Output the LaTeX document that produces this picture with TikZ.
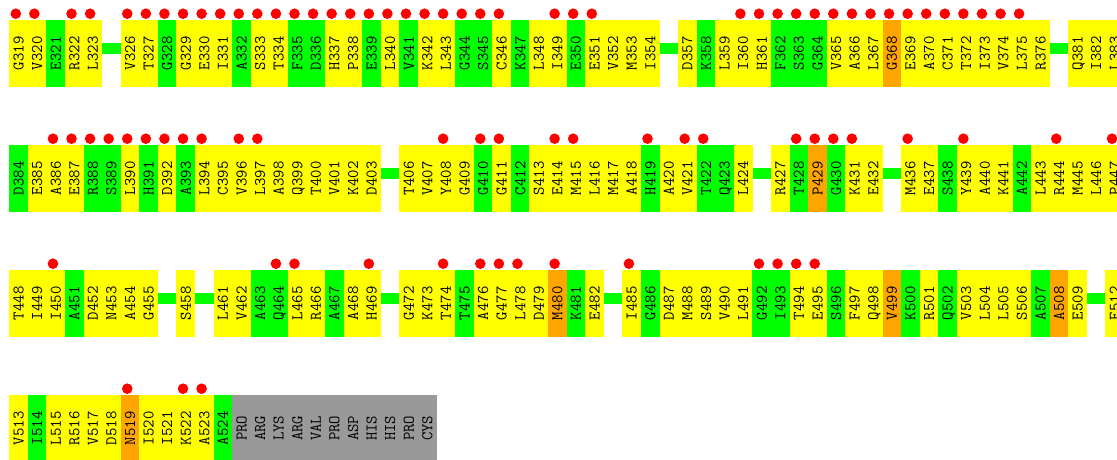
\documentclass[tikz,border=0pt]{standalone}
\usepackage{fontspec}
\usepackage{tikz}
\definecolor{cY}{HTML}{FFFF00}
\definecolor{cG}{HTML}{00FF00}
\definecolor{cO}{HTML}{FFA500}
\definecolor{cR}{HTML}{FF0000}
\definecolor{cX}{HTML}{999999}
\tikzset{
  cell/.style={draw=none, inner sep=0pt, outer sep=0pt, minimum width=18.68pt, minimum height=66.7pt},
  reslabel/.style={rotate=90, inner sep=0pt, text height=10pt, text depth=0pt, text=black,
    font=\ttfamily\fontsize{16.3}{16.3}\selectfont},
  resdot/.style={fill=cR},
  link/.style={draw=cG, line width=11pt},
}
\newcommand\cellw{18.58}
\newcommand\xorig{9.3}
\def\gapmark{-}
\newcommand\resrow[2]{%
  \foreach \lab/\col/\dt [count=\i from 0] in {#2}{%
    \edef\tmplab{\lab}%
    \ifx\tmplab\gapmark\else
      \node[cell, fill=c\col, label={[reslabel]center:\lab}] (\lab) at ({\xorig+(\i+0.5)*\cellw}, {#1+33.35}) {};
      \ifnum\dt=1 \fill[resdot] ([xshift=-2.8pt,yshift=6.3pt]\lab.north) circle (5.3pt);\fi
    \fi
  }%
}
\newcommand\linkup[2]{\draw[link] ([yshift=4.55pt]#1.east) -- ([yshift=4.55pt]#2.west);}
\begin{document}
\begin{tikzpicture}[x=1pt,y=-1pt]
\path[use as bounding box] (0,0) rectangle (1117,460);
\clip (0,0) rectangle (1117,460);
\fill[white] (0,0) rectangle (1117,460);
% row 1
\resrow{20}{G319/Y/1, V320/Y/1, E321/G/0, R322/Y/1, L323/Y/1, -/-/0,
V326/Y/1, T327/Y/1, G328/G/1, G329/Y/1, E330/Y/1, I331/Y/1, A332/G/1, S333/Y/1, T334/Y/1, F335/G/1, D336/G/1, H337/Y/1, P338/Y/1, E339/G/1, L340/Y/1, V341/G/1, K342/Y/1, L343/Y/1, G344/G/1, S345/G/1, C346/Y/1, K347/G/0, L348/Y/0, I349/Y/1, E350/G/1, E351/Y/1, V352/Y/0, M353/Y/0, I354/Y/0, -/-/0,
D357/Y/0, K358/G/0, L359/Y/0, I360/Y/1, H361/Y/1, F362/G/1, S363/G/1, G364/G/1, V365/Y/1, A366/Y/1, L367/Y/1, G368/O/1, E369/Y/1, A370/Y/1, C371/Y/1, T372/Y/1, I373/Y/1, V374/Y/1, L375/Y/1, R376/Y/0, -/-/0,
Q381/Y/0, I382/Y/0, L383/Y/0}
% row 2
\resrow{145}{D384/G/0, E385/Y/0, A386/Y/1, E387/Y/1, R388/G/1, S389/G/1, L390/Y/1, H391/G/1, D392/Y/1, A393/G/1, L394/Y/1, C395/Y/0, V396/Y/1, L397/Y/1, A398/Y/0, Q399/Y/0, T400/Y/0, V401/Y/0, K402/Y/0, D403/Y/0, -/-/0,
T406/Y/0, V407/Y/0, Y408/Y/1, G409/Y/0, G410/G/1, G411/Y/1, C412/G/0, S413/Y/0, E414/Y/1, M415/Y/1, L416/Y/0, M417/Y/0, A418/Y/0, H419/G/1, A420/Y/0, V421/Y/1, T422/G/1, Q423/G/0, L424/Y/0, -/-/0,
R427/Y/0, T428/G/1, P429/O/1, G430/G/1, K431/Y/1, E432/Y/0, -/-/0,
M436/Y/1, E437/Y/0, S438/G/0, Y439/Y/1, A440/Y/0, K441/Y/0, A442/G/0, L443/Y/0, R444/Y/1, M445/Y/0, L446/Y/0, P447/Y/1}
% row 3
\resrow{270}{T448/Y/0, I449/Y/0, I450/Y/1, A451/G/0, D452/Y/0, N453/Y/0, A454/Y/0, G455/Y/0, -/-/0, S458/Y/0, -/-/0,
L461/Y/0, V462/Y/0, A463/G/0, Q464/G/1, L465/Y/1, R466/Y/0, A467/G/0, A468/Y/0, H469/Y/1, -/-/0,
G472/Y/0, K473/Y/0, T474/Y/1, T475/G/0, A476/Y/1, G477/Y/1, L478/Y/1, D479/Y/0, M480/O/1, K481/G/0, E482/Y/0, -/-/0,
I485/Y/1, G486/G/0, D487/Y/0, M488/Y/0, S489/Y/0, V490/Y/0, L491/Y/0, G492/G/1, I493/G/1, T494/Y/1, E495/Y/1, S496/G/0, F497/Y/0, Q498/Y/0, V499/O/0, K500/G/0, R501/Y/0, Q502/G/0, V503/Y/0, L504/Y/0, L505/Y/0, S506/Y/0, A507/G/0, A508/O/0, E509/Y/0, -/-/0, E512/Y/0}
% row 4
\resrow{395}{V513/Y/0, I514/G/0, L515/Y/0, R516/Y/0, V517/Y/0, D518/Y/0, N519/O/1, I520/Y/0, I521/Y/0, K522/Y/1, A523/Y/1, A524/G/0}
\foreach \lab [count=\i from 12] in {PRO,ARG,LYS,ARG,VAL,PRO,ASP,HIS,HIS,PRO,CYS}{%
  \node[cell, fill=cX, label={[reslabel]center:\lab}] (tail\i) at ({\xorig+(\i+0.5)*\cellw}, {395+33.35}) {};
}
% connectors
\linkup{L323}{V326}
\linkup{I354}{D357}
\linkup{R376}{Q381}
\linkup{D403}{T406}
\linkup{L424}{R427}
\linkup{E432}{M436}
\linkup{G455}{S458}
\linkup{S458}{L461}
\linkup{H469}{G472}
\linkup{E482}{I485}
\linkup{E509}{E512}
\end{tikzpicture}
\end{document}
